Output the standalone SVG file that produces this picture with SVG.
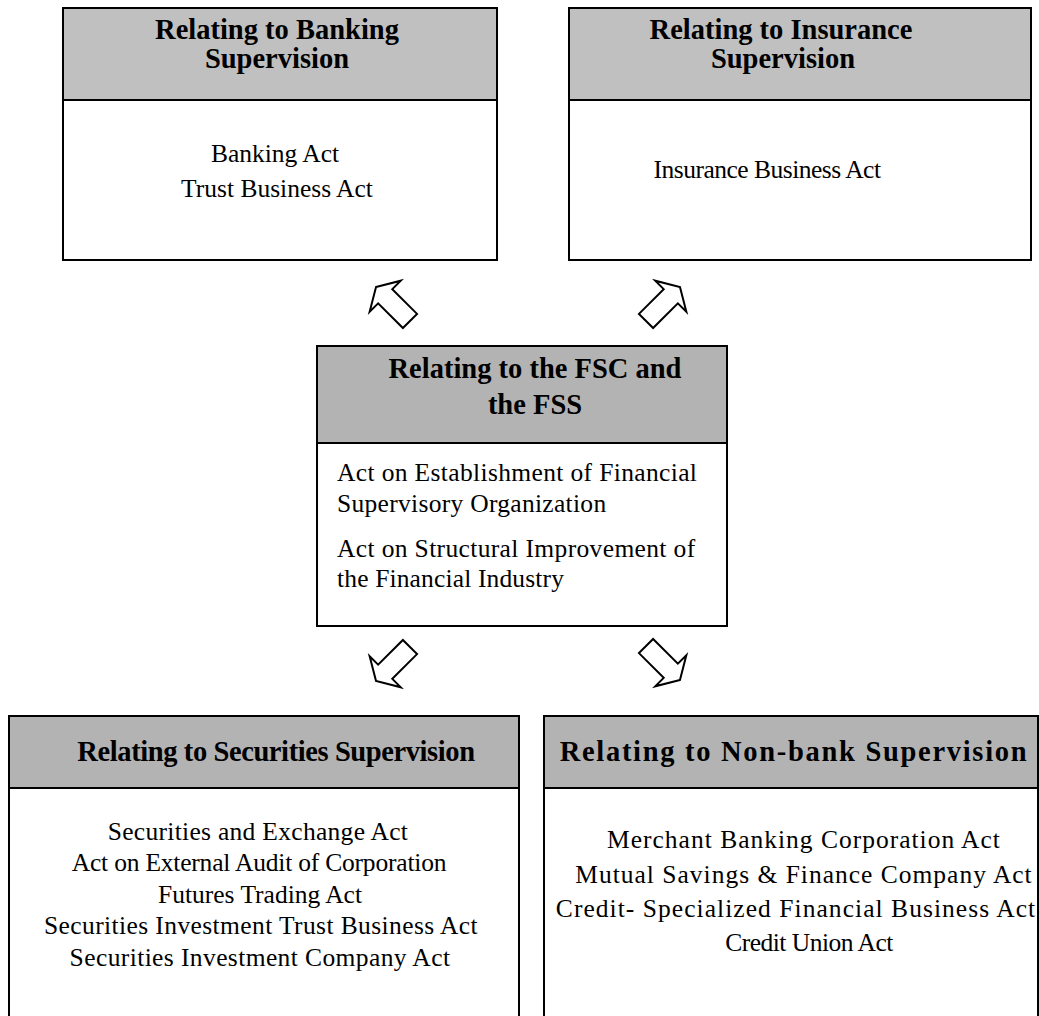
<svg xmlns="http://www.w3.org/2000/svg" width="1039" height="1016" viewBox="0 0 1039 1016">
<defs>
<style>
.box{fill:#fff;stroke:#000;stroke-width:2}
.hd{stroke:#000;stroke-width:2}
.hdA{fill:#c0c0c0}
.hdB{fill:#b3b3b3}
.ht{font-family:"Liberation Serif","Times New Roman",serif;font-weight:bold;font-size:28.5px;fill:#000;text-anchor:middle}
.bt{font-family:"Liberation Serif","Times New Roman",serif;font-size:25.5px;fill:#000;text-anchor:middle}
.bl{text-anchor:start}
.arr{fill:#fff;stroke:#000;stroke-width:2;stroke-linejoin:miter}
</style>
<path id="blk" d="M0,-24 L22,-11 L10,-11 L10,24 L-10,24 L-10,-11 L-22,-11 Z"/>
</defs>
<rect width="1039" height="1016" fill="#fff"/>

<g id="connectors">
<use href="#blk" class="arr" transform="translate(393,304) rotate(-45)"/>
<use href="#blk" class="arr" transform="translate(663,304) rotate(45)"/>
<use href="#blk" class="arr" transform="translate(393,664) rotate(-135)"/>
<use href="#blk" class="arr" transform="translate(663,663) rotate(135)"/>
</g>

<g id="banking">
<rect class="box" x="63" y="8" width="434" height="252"/>
<rect class="hd hdA" x="63" y="8" width="434" height="92"/>
<text class="ht" x="277" y="39">Relating to Banking</text>
<text class="ht" x="277" y="68">Supervision</text>
<text class="bt" x="275" y="162">Banking Act</text>
<text class="bt" x="277" y="197">Trust Business Act</text>
</g>

<g id="insurance">
<rect class="box" x="569" y="8" width="462" height="252"/>
<rect class="hd hdA" x="569" y="8" width="462" height="92"/>
<text class="ht" x="781" y="39">Relating to Insurance</text>
<text class="ht" x="783" y="68">Supervision</text>
<text class="bt" x="767" y="178" letter-spacing="-0.5">Insurance Business Act</text>
</g>

<g id="fsc">
<rect class="box" x="317" y="346" width="410" height="280"/>
<rect class="hd hdB" x="317" y="346" width="410" height="97"/>
<text class="ht" x="535" y="378">Relating to the FSC and</text>
<text class="ht" x="535" y="414">the FSS</text>
<text class="bt bl" x="337" y="481" letter-spacing="0.36">Act on Establishment of Financial</text>
<text class="bt bl" x="337" y="512" letter-spacing="0.3">Supervisory Organization</text>
<text class="bt bl" x="337" y="557" letter-spacing="0.36">Act on Structural Improvement of</text>
<text class="bt bl" x="337" y="587" letter-spacing="0.15">the Financial Industry</text>
</g>

<g id="securities">
<rect class="box" x="9" y="716" width="510" height="320"/>
<rect class="hd hdB" x="9" y="716" width="510" height="72"/>
<text class="ht" x="276" y="761" letter-spacing="-0.4">Relating to Securities Supervision</text>
<text class="bt" x="258" y="840" letter-spacing="0.3">Securities and Exchange Act</text>
<text class="bt" x="259" y="871" letter-spacing="-0.2">Act on External Audit of Corporation</text>
<text class="bt" x="260" y="903">Futures Trading Act</text>
<text class="bt" x="261" y="934" letter-spacing="0.4">Securities Investment Trust Business Act</text>
<text class="bt" x="260" y="966" letter-spacing="0.4">Securities Investment Company Act</text>
</g>

<g id="nonbank">
<rect class="box" x="544" y="716" width="494" height="320"/>
<rect class="hd hdB" x="544" y="716" width="494" height="72"/>
<text class="ht" x="794" y="761" letter-spacing="1.7">Relating to Non-bank Supervision</text>
<text class="bt" x="804" y="848" letter-spacing="1">Merchant Banking Corporation Act</text>
<text class="bt" x="804" y="883" letter-spacing="1">Mutual Savings &amp; Finance Company Act</text>
<text class="bt" x="796" y="917" letter-spacing="1.05">Credit- Specialized Financial Business Act</text>
<text class="bt" x="809" y="951" letter-spacing="-0.5">Credit Union Act</text>
</g>
</svg>
